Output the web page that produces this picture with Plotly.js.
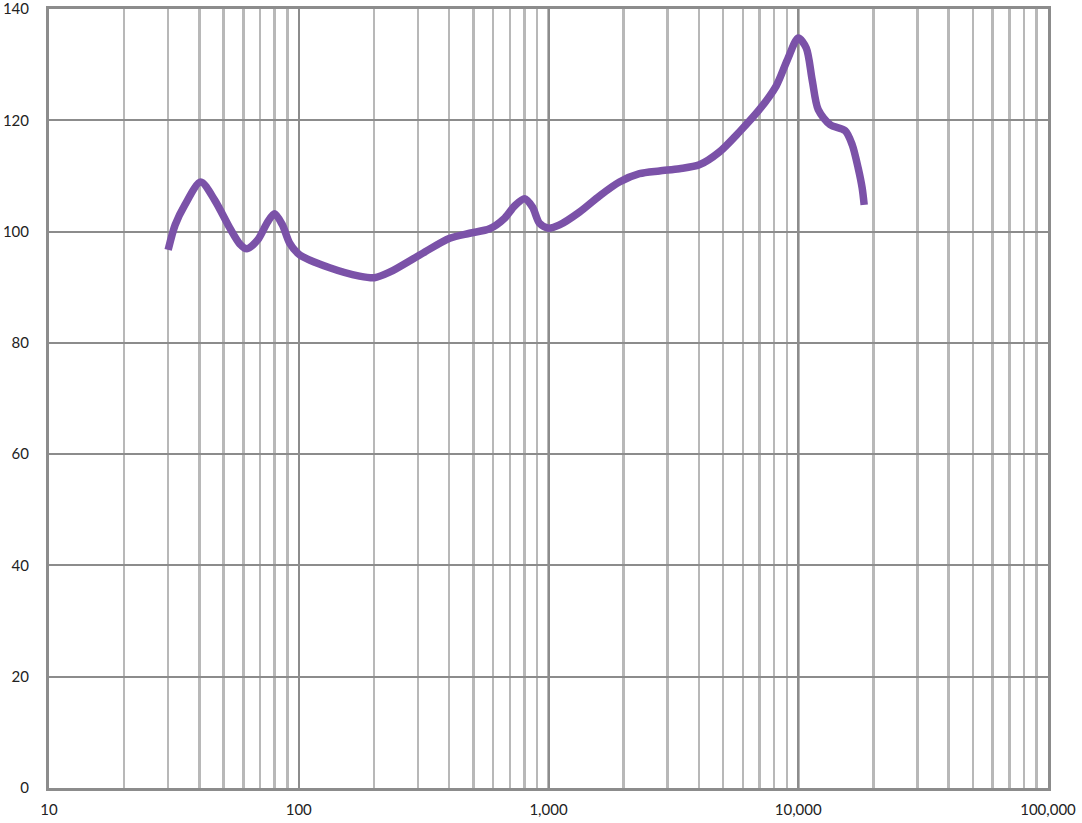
<!DOCTYPE html>
<html>
<head>
<meta charset="utf-8">
<script src="https://cdn.plot.ly/plotly-3.0.1.min.js"></script>
<style>html,body{margin:0;padding:0;background:#fff;}#chart{width:1082px;height:823px;}</style>
</head>
<body>
<div id="chart"></div>
<script>
const freqHz = [30, 32, 35, 40.5, 46, 53, 58, 62, 68.5, 75, 80, 86, 92, 101, 133, 175, 201, 231, 305, 402, 483, 581, 667, 731, 802, 863, 920, 1000, 1107, 1330, 1600, 1923, 2312, 2780, 3342, 4018, 4831, 5808, 6982, 8166, 9036, 10000, 10764, 11376, 12023, 13428, 15417, 16444, 17378, 18030, 18365];
const levelDb = [96.7, 101.2, 104.8, 108.9, 105.7, 100.6, 97.8, 96.9, 98.5, 101.7, 103.2, 101.2, 97.9, 95.8, 93.5, 92.0, 91.7, 92.7, 95.8, 98.8, 99.7, 100.5, 102.4, 104.6, 105.9, 104.4, 101.5, 100.6, 101.2, 103.5, 106.4, 108.9, 110.4, 110.9, 111.3, 112.0, 114.3, 117.9, 121.9, 126.2, 130.8, 134.8, 133.0, 127.2, 121.9, 119.2, 118.1, 115.6, 111.4, 107.8, 104.8];
const xTickVals = [10, 100, 1000, 10000, 100000];
const xTickText = ['10', '100', '1,000', '10,000', '100,000'];
const yTickVals = [0, 20, 40, 60, 80, 100, 120, 140];

const trace = {
  x: freqHz, y: levelDb, type: 'scatter', mode: 'lines',
  line: {color: 'rgb(123,82,168)', width: 7.5, shape: 'spline', smoothing: 0.8},
  hoverinfo: 'x+y'
};
const layout = {
  width: 1082, height: 823,
  margin: {l: 49, r: 34, t: 9, b: 35},
  paper_bgcolor: '#fff', plot_bgcolor: '#fff',
  showlegend: false,
  font: {family: 'Lato, "Open Sans", sans-serif', size: 15, color: '#222'},
  xaxis: {
    type: 'log', range: [1, 5],
    tickvals: xTickVals, ticktext: xTickText,
    showgrid: true, gridcolor: '#8c8c8c', gridwidth: 2,
    minor: {dtick: 'D1', showgrid: true, gridcolor: '#b8b8b8', gridwidth: 2.5, ticks: ''},
    showline: true, linecolor: '#8c8c8c', linewidth: 3, mirror: true,
    ticks: '', zeroline: false, ticklabelstandoff: 6, ticklabeloverflow: 'allow',
    automargin: false
  },
  yaxis: {
    range: [0, 140], tickvals: yTickVals,
    showgrid: true, gridcolor: '#8c8c8c', gridwidth: 2,
    showline: true, linecolor: '#8c8c8c', linewidth: 3, mirror: true,
    ticks: '', zeroline: false, ticklabelstandoff: 14, ticklabeloverflow: 'allow',
    automargin: false
  }
};
Plotly.newPlot('chart', [trace], layout, {displayModeBar: false, staticPlot: true});
</script>
</body>
</html>
